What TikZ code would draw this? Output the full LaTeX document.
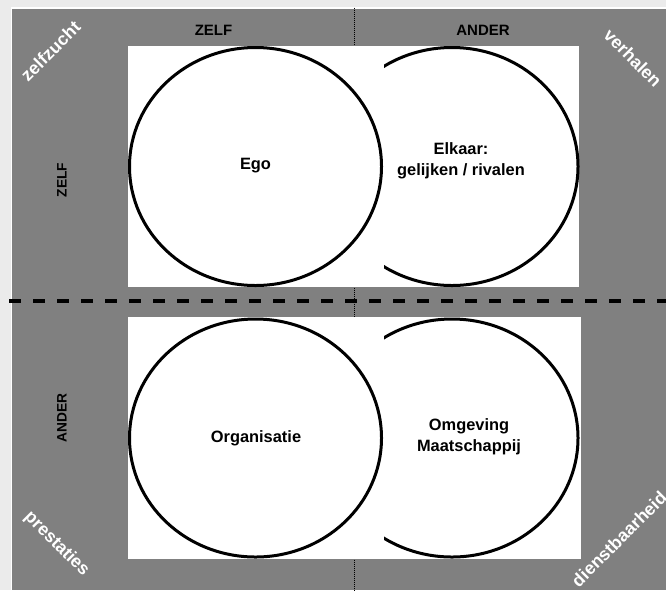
\documentclass[tikz,border=0pt]{standalone}
\usepackage{fontspec}
\setmainfont{Liberation Sans}
\usetikzlibrary{shapes.geometric}
\definecolor{bggray}{HTML}{EBEBEB}
\definecolor{panelgray}{HTML}{808080}
\tikzset{
  circ/.style={ellipse, draw=black, line width=2.25pt, fill=none, inner sep=0pt,
    minimum width=189pt, minimum height=178.5pt},
  circlabel/.style={font=\fontsize{12.3}{15.5}\selectfont\bfseries, align=center, inner sep=0pt, text=black},
  toplabel/.style={font=\fontsize{11.25}{13}\selectfont\bfseries, inner sep=0pt, text=black},
  sidelabel/.style={font=\fontsize{10.3}{12}\selectfont\bfseries, inner sep=0pt, text=black, rotate=90},
  cornerlabel/.style={font=\fontsize{13.3}{15}\selectfont\bfseries, inner sep=0pt, text=white},
  dotline/.style={draw=black, line width=0.8pt, dash pattern=on 0.75pt off 0.75pt},
  dashline/.style={draw=black, line width=3pt, dash pattern=on 9pt off 9pt}
}
\begin{document}
\begin{tikzpicture}[x=0.75pt,y=-0.75pt]
\useasboundingbox (0,0) rectangle (666,590);
% background and panel
\fill[bggray] (0,0) rectangle (666,590);
\fill[white] (10.6,7.3) rectangle (666,590);
\fill[panelgray] (12,8.7) rectangle (666,590);
% vertical dotted divider
\coordinate (vtop) at (354.3,7.5);
\coordinate (vbot) at (354.3,590);
\draw[dotline] (vtop) -- (vbot);
% white fields
\fill[white] (128.3,46) rectangle (579.3,287.3);
\fill[white] (128.3,316.7) rectangle (581,559.3);
% horizontal dashed divider
\coordinate (hleft) at (9,300.7);
\coordinate (hright) at (666,300.7);
\draw[dashline] (hleft) -- (hright);
% circles
\node[circ] (ego) at (255.5,166.5) {};
\node[circ] (org) at (255.5,438) {};
\begin{scope}
  \clip (384,0) rectangle (666,590);
  \node[circ] (elkaar) at (452,166.5) {};
  \node[circ] (omgeving) at (452,438) {};
\end{scope}
% circle texts
\node[circlabel] (tego) at (255.5,166) {Ego};
\node[circlabel] (telkaar) at (461,161) {Elkaar:\\gelijken / rivalen};
\node[circlabel] (torg) at (256,438) {Organisatie};
\node[circlabel] (tomg) at (469,437) {Omgeving\\Maatschappij};
% axis labels
\node[toplabel] (tzelf) at (213.5,30) {ZELF};
\node[toplabel] (tander) at (483,30) {ANDER};
\node[sidelabel] (lzelf) at (62,180) {ZELF};
\node[sidelabel] (lander) at (62,418) {ANDER};
% corner labels
\node[cornerlabel, rotate=45] (czelfzucht) at (50.5,51) {zelfzucht};
\node[cornerlabel, rotate=-45] (cverhalen) at (633,58) {verhalen};
\node[cornerlabel, rotate=-45] (cprestaties) at (56.7,544) {prestaties};
\node[cornerlabel, rotate=45] (cdienst) at (619,539) {dienstbaarheid};
\end{tikzpicture}
\end{document}
